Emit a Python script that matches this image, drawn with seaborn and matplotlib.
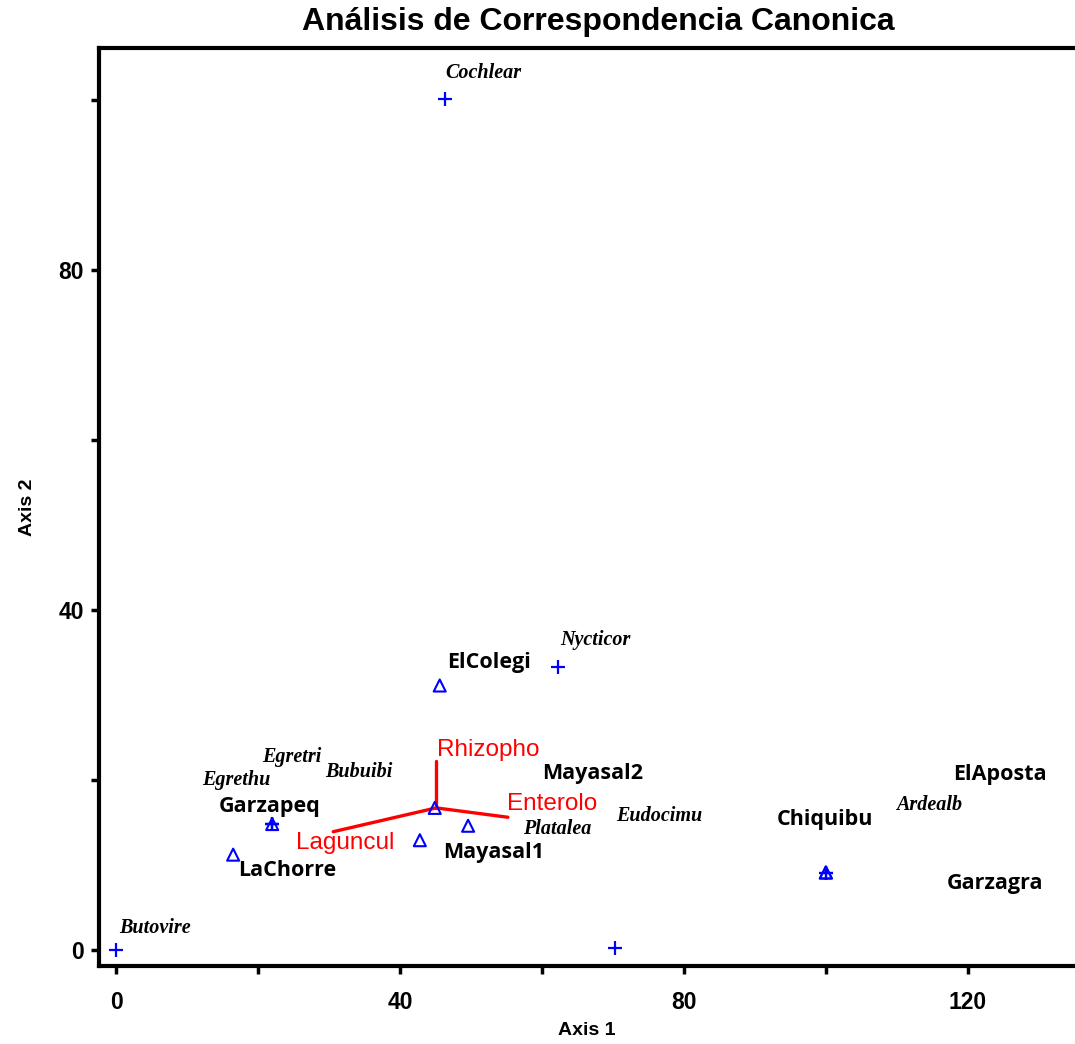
import matplotlib
matplotlib.use("Agg")
import matplotlib.pyplot as plt
import seaborn as sns
import pandas as pd

# ---- data ----
species_names = ["Cochlear", "Nycticor", "Butovire", "Egretri", "Egrethu", "Bubuibi",
                 "Platalea", "Eudocimu", "Ardealb"]
species_x = [46.3, 62.3, 0.0, 22.0, 22.0, 22.0, 70.3, 100.0, 100.0]
species_y = [100.1, 33.3, 0.0, 14.8, 14.8, 14.8, 0.2, 9.1, 9.1]
species_lab_x = [51.8, 67.5, 5.5, 24.8, 17.0, 34.2, 62.1, 76.5, 114.6]
species_lab_y = [103.2, 36.5, 2.6, 22.7, 20.0, 20.9, 14.2, 15.8, 17.1]

site_names = ["ElColegi", "Garzapeq", "LaChorre", "Mayasal1", "Mayasal2",
              "Chiquibu", "ElAposta", "Garzagra"]
site_x = [45.6, 22.0, 16.5, 42.8, 49.6, 100.0, 100.0, 44.9]
site_y = [31.1, 14.8, 11.2, 12.9, 14.6, 9.1, 9.1, 16.7]
site_lab_x = [52.5, 21.7, 24.1, 53.2, 67.2, 99.9, 124.5, 123.8]
site_lab_y = [33.8, 16.9, 9.3, 11.4, 20.7, 15.3, 20.6, 7.8]

env_names = ["Rhizopho", "Enterolo", "Laguncul"]
env_origin = (45.1, 16.7)
env_x = [45.1, 55.2, 30.6]
env_y = [22.2, 15.6, 13.9]
env_lab_x = [52.5, 61.4, 32.3]
env_lab_y = [23.5, 17.2, 12.6]

x_ticks = [0, 40, 80, 120]
y_ticks = [0, 40, 80]

# ---- plot ----
sns.set_theme(style="white")
plt.rcParams["font.family"] = ["Liberation Sans", "DejaVu Sans"]
plt.rcParams["text.color"] = "black"
plt.rcParams["axes.labelcolor"] = "black"
plt.rcParams["xtick.color"] = "black"
plt.rcParams["ytick.color"] = "black"

fig = plt.figure(figsize=(10.75, 10.44), dpi=100)
ax = fig.add_axes([99 / 1075, 78 / 1044, 1 - 99 / 1075, (966 - 48) / 1044])

sp = pd.DataFrame({"x": species_x, "y": species_y, "name": species_names})
st = pd.DataFrame({"x": site_x, "y": site_y, "name": site_names})

# environmental vectors
vec_rows = []
for n, ex, ey in zip(env_names, env_x, env_y):
    vec_rows.append({"var": n, "x": env_origin[0], "y": env_origin[1], "o": 0})
    vec_rows.append({"var": n, "x": ex, "y": ey, "o": 1})
vec = pd.DataFrame(vec_rows)
sns.lineplot(data=vec, x="x", y="y", units="var", estimator=None, sort=False,
             color="#ff0000", linewidth=2.4, ax=ax, legend=False)

sns.scatterplot(data=st, x="x", y="y", marker="^", s=75, facecolor="none",
                edgecolor="#0000ff", linewidth=1.5, ax=ax, legend=False, zorder=3)
sns.scatterplot(data=sp, x="x", y="y", marker="+", s=100, color="#0000ff",
                linewidth=1.6, ax=ax, legend=False, zorder=3)

for n, lx, ly in zip(species_names, species_lab_x, species_lab_y):
    ax.text(lx, ly, n, ha="center", va="center", fontsize=14.5, style="italic",
            family="Liberation Serif", color="black", fontweight="bold")
for n, lx, ly in zip(site_names, site_lab_x, site_lab_y):
    ax.text(lx, ly, n, ha="center", va="center", fontsize=15.5, family="Open Sans",
            fontweight="bold", color="black")
for n, lx, ly in zip(env_names, env_lab_x, env_lab_y):
    ax.text(lx, ly, n, ha="center", va="center", fontsize=17.5, color="#ff0000")

ax.set_xlim(-2.4, 135.1)
ax.set_ylim(-1.9, 106.1)
ax.set_xticks(x_ticks)
ax.set_yticks(y_ticks)
ax.set_xticks([20, 60, 100], minor=True)
ax.set_yticks([20, 60, 100], minor=True)
ax.tick_params(axis="both", which="major", direction="out", length=6, width=2.5,
               labelsize=16.5, color="black", bottom=True, left=True)
ax.tick_params(axis="x", which="major", pad=12)
ax.tick_params(axis="y", which="major", pad=5)
ax.tick_params(axis="both", which="minor", direction="out", length=6, width=2.5,
               bottom=True, left=True)
for lab in ax.get_xticklabels() + ax.get_yticklabels():
    lab.set_fontweight("bold")

for s in ["left", "bottom", "top"]:
    ax.spines[s].set_visible(True)
    ax.spines[s].set_color("black")
    ax.spines[s].set_linewidth(3)
ax.spines["right"].set_visible(False)

ax.set_xlabel("Axis 1", fontsize=14, fontweight="bold", labelpad=6)
ax.set_ylabel("Axis 2", fontsize=14, fontweight="bold", labelpad=16)
fig.text(598 / 1075, 1 - 22 / 1044, "Análisis de Correspondencia Canonica",
         ha="center", va="center", fontsize=23, fontweight="bold", color="black")

fig.savefig("out.png", dpi=100)
